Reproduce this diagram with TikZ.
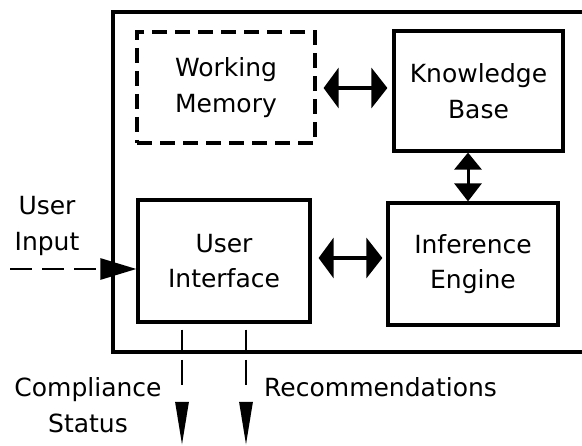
\documentclass[tikz,border=0pt]{standalone}
\usepackage{fontspec}
\setmainfont{DejaVu Sans}
\usetikzlibrary{arrows.meta}
\begin{document}
\begin{tikzpicture}[x=1pt,y=-1pt,
  every node/.style={font=\fontsize{25}{35.5}\selectfont, align=center, inner sep=0pt},
  blk/.style={draw, line width=3.2pt, minimum width=#1},
  twohead/.style={line width=3.4pt, {Triangle[length=15pt,width=40pt]}-{Triangle[length=16pt,width=40pt]}},
  vhead/.style={line width=3pt, {Triangle[length=17pt,width=27pt]}-{Triangle[length=18pt,width=27pt]}},
  downarrow/.style={line width=2.8pt, dash pattern=on 0pt off 8pt on 25pt off 100pt, -{Triangle[length=43pt,width=13pt]}},
  frame/.style={line width=3.2pt}]
\useasboundingbox (0,0) rectangle (582,446);
% outer frame (open on the right)
\coordinate (ftr) at (590,12);
\coordinate (ftl) at (113,12);
\coordinate (fbl) at (113,352);
\coordinate (fbr) at (590,352);
\draw[frame] (ftr) -- (ftl) -- (fbl) -- (fbr);
% blocks
\node[blk=178pt, minimum height=111pt, dash pattern=on 15pt off 8pt] (wm) at (226,87.5) {Working\\Memory};
\node[blk=169pt, minimum height=120pt] (kb) at (478.5,91) {Knowledge\\Base};
\node[blk=172pt, minimum height=122pt] (ui) at (224,261) {User\\Interface};
\node[blk=170pt, minimum height=122pt] (ie) at (473,264) {Inference\\Engine};
% connectors
\coordinate (m1) at (355,88);
\coordinate (m2) at (350,258);
\coordinate (m3) at (468,175);
\draw[twohead, shorten <=7pt, shorten >=5pt] (wm.east |- m1) -- (kb.west |- m1);
\draw[twohead, shorten <=7pt, shorten >=4pt] (ui.east |- m2) -- (ie.west |- m2);
\draw[vhead] (kb.south -| m3) -- (ie.north -| m3);
% user input
\node (uin) at (47,226) {User\\Input};
\coordinate (src) at (10,269);
\draw[line width=2.8pt, dash pattern=on 22pt off 10pt, -{Triangle[length=36pt,width=21pt]}] (src) -- (ui.west |- src);
% outputs
\coordinate (d1) at (182,445);
\coordinate (d2) at (246,445);
\draw[line width=2.8pt, shorten <=6pt] (ui.south -| d1) -- (fbl -| d1);
\draw[line width=2.8pt, shorten <=6pt] (ui.south -| d2) -- (fbl -| d2);
\draw[downarrow] (fbl -| d1) -- (d1);
\draw[downarrow] (fbl -| d2) -- (d2);
\node (cs) at (88,405) {Compliance\\Status};
\node[anchor=base west] (rec) at (264,397) {Recommendations};
\end{tikzpicture}
\end{document}
